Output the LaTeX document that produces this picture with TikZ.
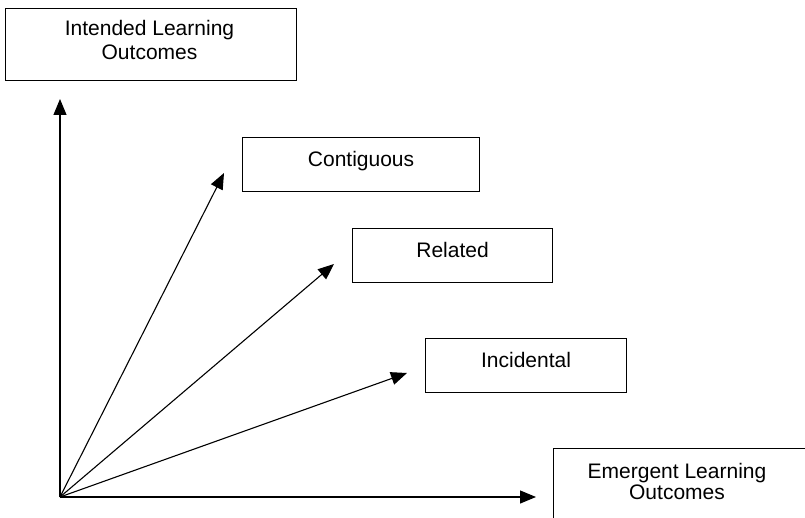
\documentclass[tikz,border=0pt]{standalone}
\usepackage{fontspec}
\setmainfont{Liberation Sans}
\usetikzlibrary{arrows.meta}
\begin{document}
\begin{tikzpicture}[x=1pt,y=-1pt,
  box/.style={draw, line width=1.1pt, inner sep=0pt, anchor=north west},
  onebox/.style={box, minimum height=54pt, text height=29pt, text depth=25pt, font=\fontsize{21}{23}\selectfont},
  lbl/.style={align=center, inner sep=0pt, anchor=base},
  axis/.style={line width=1.2pt, -{Triangle[length=16pt,width=13pt]}},
  ray/.style={line width=1.1pt, -{Triangle[length=16pt,width=13pt]}}]
\useasboundingbox (0,0) rectangle (805,518);
\clip (0,0) rectangle (805,518);
% boxes
\node[box, minimum width=291pt, minimum height=72pt] (ilo) at (5,8) {};
\node[lbl, font=\fontsize{21}{23.5}\selectfont] (ilot) at (149.5,59.5) {Intended Learning\\Outcomes};
\node[onebox, minimum width=237pt] (ctg) at (242,137) {Contiguous};
\node[onebox, minimum width=200pt] (rel) at (352,228) {Related};
\node[onebox, minimum width=201pt] (inc) at (425,338) {Incidental};
\node[box, minimum width=300pt, minimum height=90pt] (elo) at (553,448) {};
\node[lbl, font=\fontsize{21}{21}\selectfont] (elot) at (677,499) {Emergent Learning\\Outcomes};
% arrows
\coordinate (O) at (60,497);
\coordinate (ytip) at (60,99);
\coordinate (xtip) at (536,497);
\coordinate (ctip) at (224,173);
\coordinate (rtip) at (334,264);
\coordinate (itip) at (407,373);
\draw[axis] (O) -- (ytip);
\draw[axis] (O) -- (xtip);
\draw[ray] (O) -- (ctip);
\draw[ray] (O) -- (rtip);
\draw[ray] (O) -- (itip);
\end{tikzpicture}
\end{document}
